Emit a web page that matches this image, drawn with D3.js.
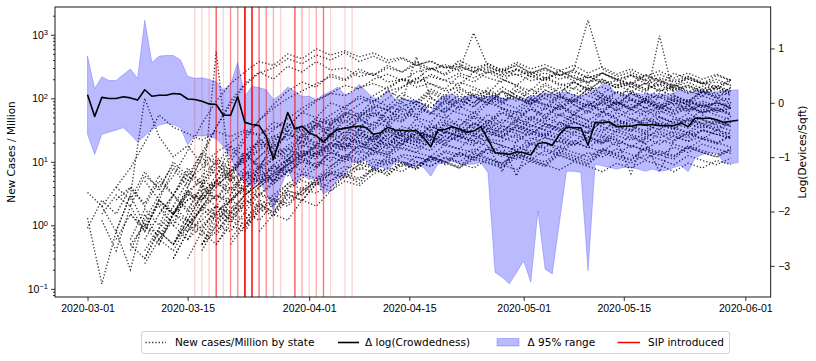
<!DOCTYPE html>
<html>
<head>
<meta charset="utf-8">
<script src="https://cdn.jsdelivr.net/npm/d3@7"></script>
<style>
  body { margin: 0; background: #fff; }
  svg { font-family: "DejaVu Sans", sans-serif; }
  .axis text { font-size: 10.5px; fill: #000; }
  .axis line { stroke: #000; stroke-width: 0.8; }
  .legend text { font-size: 10.5px; fill: #000; }
</style>
</head>
<body>
<div id="chart"></div>
<script>
// daily values, 2020-03-01 .. 2020-05-31
const crowdStart = "2020-03-01";

// mean change in log(crowdedness)
const crowdMean = [
  0.15, -0.25, 0.10, 0.08, 0.08, 0.11, 0.09, 0.05, 0.24, 0.12,
  0.14, 0.14, 0.17, 0.16, 0.07, 0.06, 0.03, -0.02, -0.03, -0.23,
  -0.23, 0.11, -0.36, -0.40, -0.42, -0.62, -1.04, -0.61, -0.18, -0.48,
  -0.43, -0.55, -0.61, -0.72, -0.58, -0.49, -0.47, -0.44, -0.43, -0.46,
  -0.58, -0.55, -0.45, -0.50, -0.51, -0.52, -0.51, -0.64, -0.81, -0.50,
  -0.49, -0.44, -0.48, -0.54, -0.52, -0.44, -0.67, -0.92, -0.93, -0.95,
  -0.90, -0.92, -0.96, -0.75, -0.73, -0.78, -0.58, -0.45, -0.46, -0.46,
  -0.78, -0.36, -0.37, -0.35, -0.44, -0.43, -0.43, -0.40, -0.41, -0.40,
  -0.42, -0.42, -0.42, -0.37, -0.44, -0.28, -0.29, -0.28, -0.31, -0.36,
  -0.34, -0.32
];

// 95% range, upper and lower
const crowdHigh = [
  0.86, 0.26, 0.48, 0.41, 0.41, 0.52, 0.62, 0.45, 1.52, 0.74,
  0.86, 0.87, 0.87, 0.79, 0.49, 0.45, 0.46, 0.43, 0.39, 0.24,
  0.34, 0.74, 0.12, 0.30, 0.28, 0.24, 0.06, 0.15, 0.29, 0.21,
  0.12, 0.12, 0.06, 0.15, 0.21, 0.29, 0.15, 0.18, 0.34, 0.21,
  0.09, 0.06, 0.24, 0.07, 0.06, 0.05, 0.04, -0.03, -0.18, 0.06,
  0.13, 0.17, 0.08, 0.12, 0.15, 0.09, 0.12, 0.13, 0.09, 0.07,
  0.08, 0.06, 0.12, 0.13, 0.18, 0.15, 0.18, 0.19, 0.15, 0.12,
  0.18, 0.24, 0.34, 0.32, 0.15, 0.15, 0.15, 0.17, 0.15, 0.17,
  0.15, 0.15, 0.18, 0.24, 0.17, 0.21, 0.23, 0.18, 0.21, 0.21,
  0.23, 0.24
];
const crowdLow = [
  -0.58, -0.95, -0.58, -0.54, -0.50, -0.46, -0.58, -0.72, -0.61, -0.49,
  -0.41, -0.38, -0.40, -0.46, -0.77, -0.61, -0.61, -0.61, -0.66, -0.80,
  -1.00, -1.32, -1.46, -1.55, -1.44, -1.65, -1.98, -1.56, -1.22, -1.53,
  -1.32, -1.41, -1.38, -1.68, -1.59, -1.41, -1.32, -1.10, -1.09, -1.05,
  -1.24, -1.17, -1.24, -1.10, -1.07, -1.19, -1.13, -1.19, -1.35, -1.13,
  -1.10, -1.07, -1.13, -1.13, -1.13, -1.10, -1.28, -3.12, -3.21, -3.33,
  -3.12, -2.91, -3.30, -1.99, -3.06, -3.15, -2.20, -1.26, -1.26, -1.28,
  -3.09, -1.13, -1.16, -1.19, -1.22, -1.19, -1.19, -1.22, -1.26, -1.22,
  -1.26, -1.24, -1.19, -1.15, -1.27, -1.01, -0.95, -0.92, -0.93, -1.10,
  -1.12, -1.10
];

// new cases per million by state, one value every caseStep days from 2020-03-01,
// each state beginning at slot stateStart[s]
const caseStep = 2;
const stateStart = [
  3, 4, 5, 6, 7, 8, 8, 6,
  2, 0, 1, 3, 5, 6, 4, 7, 8, 9,
  0, 5, 6, 7, 8, 4, 9, 10, 2, 5, 1, 4,
  6, 8, 11, 10, 9, 12, 7, 3,
  2, 3, 4, 6,
  1, 2, 3, 5, 7, 9, 0, 4
];
const stateCases = [
  // hardest hit states
  [0.4,1.2,3,6,15,40,90,170,260,380,330,500,420,600,480,560,450,520,400,440,340,380,300,320,260,290,220,240,190,210,160,180,140,150,120,130,100,110,90,95,75,85,70],
  [0.3,0.9,2,5,14,35,80,160,250,300,420,350,480,400,520,380,460,360,420,330,390,300,350,270,310,250,280,220,250,200,230,180,200,160,180,140,160,130,150,120,140,110],
  [0.5,1.5,4,12,35,90,170,260,200,320,260,380,280,300,220,250,180,200,150,170,130,150,110,130,95,110,85,100,75,90,70,85,65,80,60,75,55,70,60,65,55],
  [0.5,1.5,3,6,12,25,45,70,100,130,170,220,190,260,230,300,260,340,280,320,270,310,250,290,230,260,210,240,190,220,170,190,150,170,130,150,120,140,110,120],
  [1,2.5,5,10,22,45,80,130,180,150,240,200,290,230,330,260,380,290,340,280,1070,320,260,340,250,300,230,280,210,250,190,230,170,200,150,180,140,160,130],
  [0.5,1.5,3,6,12,20,35,60,90,120,160,140,200,240,190,260,300,230,320,260,350,280,370,290,340,270,330,250,310,240,290,220,270,210,250,200,240,190],
  [0.5,0.8,1.5,2.5,4,6,8,12,18,25,35,50,70,100,150,200,300,240,400,300,350,270,330,250,300,230,280,1700,290,220,260,200,240,190,220,170,200,160],
  [0.3,0.8,2,4,7,12,20,32,48,70,95,120,110,150,170,140,200,180,220,190,250,210,270,230,290,240,280,230,260,210,250,200,230,190,210,180,200,170,180,160],
  // upper middle
  [0.8,3,100,25,12,18,9,14,20,30,26,42,36,60,50,85,70,110,90,130,100,80,120,95,140,105,85,130,100,80,120,95,150,110,90,130,100,85,120,95,80,110,90,100],
  [1.3,0.12,0.8,0.2,1.5,0.6,1.5,2.5,3,5,7,11,16,24,36,30,50,42,70,55,95,75,120,90,70,110,85,140,100,80,130,95,75,115,90,140,100,80,125,95,75,110,90,130,100,85],
  [2,0.8,3,1,2.5,1.5,3.5,5,4,7,10,15,22,32,28,45,38,60,50,80,65,100,85,130,100,80,120,95,150,110,90,135,105,85,125,100,80,120,95,140,105,85,125,100,150],
  [0.5,1,0.7,1.5,2.5,3.5,5,8,12,18,26,22,35,45,40,60,52,75,65,90,450,100,80,110,85,120,90,105,80,115,85,100,75,110,80,95,70,105,80,90,70,85,75],
  [0.6,1.2,0.8,2,3,2.5,5,8,12,18,26,38,55,75,100,85,130,150,210,170,140,230,180,260,200,160,240,190,280,210,170,250,200,160,230,180,150,210,170,140,190],
  [0.5,1,1.8,1.2,2.5,4,6,5,9,13,19,28,24,38,32,50,42,70,58,90,72,110,85,130,100,85,135,105,90,145,115,95,155,120,100,165,130,110,150,120],
  [0.4,0.9,1.5,1.2,3,550,5,8,12,18,26,24,36,48,42,60,52,75,62,90,72,60,95,75,110,85,70,100,80,65,95,75,110,85,70,100,80,65,90,75,85,70],
  [1,1.8,3,2.2,4.5,7,11,16,24,20,34,28,45,60,50,75,90,140,110,180,150,120,200,160,130,220,170,140,230,180,150,240,190,160,250,200,170,230,190],
  [0.5,1,1.8,3,4.5,7,11,17,26,38,55,80,110,150,200,170,240,190,160,260,210,180,290,220,190,270,210,180,250,200,170,240,190,160,220,180,150,200],
  [1,2.5,1.8,4,6,9,14,12,20,30,26,42,36,58,50,42,70,58,50,85,70,60,95,80,68,110,90,78,125,95,85,970,110,90,130,105,95],
  // lower middle
  [3.3,2,4,8,20,55,35,28,22,30,25,32,27,35,40,32,38,30,35,29,24,31,22,28,25,20,26,19,23,21,27,19,24,21,18,25,20,23,17,24,19,26,21,25,20,26],
  [0.8,0.5,1.2,0.8,2,1.5,3,4.5,6.5,9,13,11,17,24,20,16,30,25,20,36,29,24,40,31,26,38,31,25,42,34,28,46,37,31,50,39,33,46,37,31,42],
  [0.3,0.8,1.2,2,1.6,3,4.5,6.5,9,12,17,14,21,28,23,19,32,26,22,38,30,25,42,33,28,45,36,30,48,38,31,44,36,29,41,34,28,38,32,27],
  [0.6,1,1.6,2.5,3.5,3,5,7,10,8.5,14,11,18,15,13,22,18,15,26,21,18,30,24,20,33,27,23,36,29,24,40,32,27,44,35,29,46,37,31],
  [0.5,1.2,2,1.6,3,4.5,7,10,14,20,17,26,22,32,28,24,36,30,26,42,34,29,48,38,32,55,42,35,60,47,39,65,50,42,58,46,39,52],
  [1,0.5,1.5,1,2,1.5,2.5,4,5.5,8,11,15,13,19,16,24,21,18,28,23,20,30,25,21,18,7,22,28,24,20,30,25,21,32,27,23,34,28,24,31,27,24],
  [0.8,1.6,1.2,2.5,2,4,5.5,8,12,10,15,13,19,16,14,22,18,16,26,21,18,6,22,28,24,20,31,26,22,6.5,25,30,25,21,32,27,23],
  [0.5,1,1.6,2.5,2,3.5,5,7.5,11,9.5,14,12,17,14,12,19,16,14,22,18,15,24,20,17,27,22,19,30,24,20,7,22,28,23,19,26],
  [2.5,4,2,5,3,7,4.5,9,6,12,9,14,16,12,18,16,24,20,18,27,23,20,30,25,22,34,28,24,37,30,26,40,33,28,44,35,30,47,38,32,50,40,34,45],
  [1.5,3,1.8,4,2.5,5,3.5,7,5,10,14,12,18,15,22,19,16,26,21,18,30,25,21,34,28,24,38,31,26,42,34,29,46,37,31,50,40,34,54,43,36],
  [1.2,0.4,2,0.8,2.5,1.5,3,2.5,4.5,6,5,8,11,15,21,18,26,22,32,27,23,36,30,26,40,33,28,45,37,31,50,40,34,55,44,37,60,48,40,64,51,43,68,54,46],
  [0.6,1.5,3,6,4,8,5,7,6,9,13,18,16,23,19,16,26,21,18,30,25,21,34,28,24,37,31,26,40,33,28,43,35,30,46,38,32,48,40,34,42,36],
  // least affected
  [1,0.6,1.5,2,1.2,2.5,2,3,4.5,3.8,5.5,7,6.5,9,8,11,9.5,8,12,10,8.5,13,11,9.5,14,11.5,10,15,12.5,10.5,16,13,11,17,14,12,18,15,13,16],
  [0.4,1,0.8,1.6,1.2,2.2,3.5,3,5,6.5,8.5,7.5,10,9,12,10,8.5,11.5,9.5,8,11,9,7.5,10.5,9,7.5,10,8.5,7,9.5,8,10.5,9,7,9.5,8,10.5,9],
  [1,2,1.5,3,2.5,4.5,6.5,6,9,11,10,13,12,10.5,15,13,11.5,17,14.5,12.5,19,16,13.5,20,17,14.5,21,18,15.5,22,19,16,23,20,17],
  [0.6,1.2,2.2,1.6,3.5,3,5.5,5,7.5,10,8.5,12,10,8.5,12,10,8,11,9.5,8,12,10,8.5,13,10.5,9,14,11.5,9.5,13,11,9,12.5,10.5,9,11.5],
  [0.5,1,0.8,1.8,1.4,2.6,3.8,3.2,5,6.5,5.5,8,7,10,8.5,12,10,14,11.5,16,13,11,15,12.5,17,14,12,16,13.5,18,15,12.5,17,14,19,16,13.5],
  [0.8,1.5,1.2,2.5,2,3.5,5,4.2,6.5,8,7,10,8.5,12,10,14,11.5,9.5,13,11,15,12.5,10.5,14,12,16,13,11,15,12.5,17,14,12,16],
  [0.3,0.8,0.5,1.2,0.9,1.8,2.6,2.2,3.5,4.8,4,6,5.2,7.5,6.5,9,7.8,11,9.5,8,12,10,8.5,13,11,9,14,11.5,9.5,15,12.5,10.5,16,13,11,17,14,12,15],
  [0.5,0.3,0.8,0.5,1.2,0.9,1.6,1.3,2.2,3,2.5,3.8,5,4.3,6.5,5.5,8,7,10,8.5,12,10,14,12,16,13.5,18,15,20,17,22,18.5,24,20,26,22,28,24,30,26,32,27,29],
  // early, slowly rising
  [0.6,1.5,0.9,2.2,1.5,3.2,2.5,4.5,3.5,6,8.5,7,11,15,13,20,17,26,22,32,27,38,32,45,37,52,43,60,49,68,55,75,61,82,66,88,70,92,74,96,78,90,76,85],
  [1.5,0.8,2.5,1.6,3.5,2.6,5,3.8,6.5,5,8.5,7,11,9,14,12,18,15,23,19,28,24,34,28,40,33,46,38,52,43,58,47,63,51,68,55,72,58,76,61,80,64,70],
  [0.25,0.6,0.4,1,0.7,1.5,1.1,2.2,3.2,2.6,4.5,6.5,5.5,8.5,12,10,15,13,19,16,23,19,27,22,31,25,35,28,39,31,43,34,46,37,49,39,52,41,46,40,44,38],
  [2,1.2,3,2,4,3,5.5,4.5,7.5,6,10,8.5,13,11,17,14,22,18,27,22,32,26,38,30,44,35,50,40,56,45,62,49,67,53,72,57,76,60,70,58],
  // noisier small states
  [1.5,3,2,6,4,9,5,8,12,7,15,20,14,30,24,40,32,55,45,38,65,50,80,60,48,75,58,95,70,55,85,65,110,80,62,95,72,120,88,66,100,78,60,90,70],
  [4,2.5,7,3.5,10,6,14,9,18,12,22,16,28,20,35,26,45,32,58,40,70,50,85,60,100,72,120,85,140,100,160,115,180,130,200,145,170,130,190,140,160,125,150,120],
  [0.6,1.8,1,3,1.6,4.5,2.5,6,3.5,8,5,11,7,15,10,20,13,26,17,32,22,40,28,48,34,56,40,64,46,72,52,80,58,88,64,96,70,85,62,78,58,72,54],
  [2,1,3.5,1.8,5,3,7,4.5,9,6,12,8,16,11,21,15,27,19,34,24,42,30,50,36,60,42,68,48,75,54,82,60,88,66,92,70,85,64,78,60,70],
  [3,6,10,5,14,8,20,12,28,18,38,25,50,34,65,44,80,55,95,66,110,78,125,90,140,100,150,110,160,118,170,125,175,130,165,125,155,118,145],
  [0.7,1.4,1,2.2,1.6,3.2,2.4,4.6,3.4,6.2,4.6,8,6,10,7.5,12,9,14,10.5,16,12,18,13.5,20,15,22,16.5,24,18,26,19.5,28,21,30,22.5,32,24],
  [0.9,2.5,1.5,4,2.2,6,3,8,4.5,11,6,14,8,18,10,22,13,27,16,33,20,40,25,48,30,55,35,62,40,70,45,76,50,82,55,88,60,92,64,95,68,90,66,85,64,80],
  [5,2.5,8,4,12,6,17,9,24,13,32,18,42,24,55,32,70,42,88,54,105,68,125,82,145,96,160,110,175,124,185,136,190,145,180,140,170,135,160,130,150,125]
];

// shelter-in-place orders: date and number of states introducing it that day
const sipDates = ["2020-03-16","2020-03-17","2020-03-18","2020-03-19","2020-03-20","2020-03-21","2020-03-22",
  "2020-03-23","2020-03-24","2020-03-25","2020-03-26","2020-03-27","2020-03-28","2020-03-30","2020-03-31",
  "2020-04-01","2020-04-02","2020-04-03","2020-04-04","2020-04-06","2020-04-07"];
const sipCount = [1, 1, 1, 5, 1, 3, 3, 14, 11, 4, 3, 2, 1, 5, 2, 1, 2, 4, 1, 1, 1];

const xTickLabels = ["2020-03-01", "2020-03-15", "2020-04-01", "2020-04-15", "2020-05-01", "2020-05-15", "2020-06-01"];
const caseTicks = [0.1, 1, 10, 100, 1000];
const crowdTicks = [-3, -2, -1, 0, 1];

const width = 816, height = 361;
const margin = { top: 7, right: 45.3, bottom: 64, left: 55 };

const parse = d3.utcParse("%Y-%m-%d");
const day0 = parse(crowdStart);
const days = crowdMean.map((_, i) => d3.utcDay.offset(day0, i));

const crowd = days.map((d, i) => ({ date: d, mean: crowdMean[i], hi: crowdHigh[i], lo: crowdLow[i] }));
const states = stateCases.map((vals, s) =>
  vals.map((v, k) => ({ date: d3.utcDay.offset(day0, (stateStart[s] + k) * caseStep), v })));

const svg = d3.select("#chart").append("svg")
  .attr("width", width).attr("height", height);

// matplotlib-like 5% margins
const t0 = +days[0], t1 = +days[days.length - 1];
const tp = (t1 - t0) * 0.05;
const x = d3.scaleUtc()
  .domain([new Date(t0 - tp), new Date(t1 + tp)])
  .range([margin.left, width - margin.right]);

const allCases = states.flat().map(d => Math.log10(d.v));
const [c0, c1] = d3.extent(allCases);
const cp = (c1 - c0) * 0.05;
const yCases = d3.scaleLog()
  .domain([Math.pow(10, c0 - cp), Math.pow(10, c1 + cp)])
  .range([height - margin.bottom, margin.top]);

const r0 = d3.min(crowdLow), r1 = d3.max(crowdHigh);
const rp = (r1 - r0) * 0.05;
const yCrowd = d3.scaleLinear()
  .domain([r0 - rp, r1 + rp])
  .range([height - margin.bottom, margin.top]);

const plot = svg.append("g");
plot.append("clipPath").attr("id", "clip")
  .append("rect")
  .attr("x", margin.left).attr("y", margin.top)
  .attr("width", width - margin.left - margin.right)
  .attr("height", height - margin.top - margin.bottom);
const inner = plot.append("g").attr("clip-path", "url(#clip)");

// state case lines (dotted)
const caseLine = d3.line()
  .x(d => x(d.date))
  .y(d => yCases(d.v));

inner.append("g")
  .selectAll("path")
  .data(states)
  .join("path")
  .attr("d", caseLine)
  .attr("fill", "none")
  .attr("stroke", "#000")
  .attr("stroke-opacity", 0.8)
  .attr("stroke-width", 1.3)
  .attr("stroke-dasharray", "1.3,2");

// 95% band
const band = d3.area()
  .x(d => x(d.date))
  .y0(d => yCrowd(d.lo))
  .y1(d => yCrowd(d.hi));

inner.append("path")
  .datum(crowd)
  .attr("d", band)
  .attr("fill", "blue")
  .attr("fill-opacity", 0.27)
  .attr("stroke", "blue")
  .attr("stroke-opacity", 0.22)
  .attr("stroke-width", 1);

// SIP lines, one per state
const sip = sipDates.flatMap((d, i) => d3.range(sipCount[i]).map(() => parse(d)));
inner.append("g")
  .selectAll("line")
  .data(sip)
  .join("line")
  .attr("x1", d => x(d)).attr("x2", d => x(d))
  .attr("y1", margin.top).attr("y2", height - margin.bottom)
  .attr("stroke", "red")
  .attr("stroke-opacity", 0.18)
  .attr("stroke-width", 1.3);

// mean line
const meanLine = d3.line()
  .x(d => x(d.date))
  .y(d => yCrowd(d.mean));

inner.append("path")
  .datum(crowd)
  .attr("d", meanLine)
  .attr("fill", "none")
  .attr("stroke", "#000")
  .attr("stroke-width", 1.6)
  .attr("stroke-linejoin", "round");

// frame
svg.append("rect")
  .attr("x", margin.left).attr("y", margin.top)
  .attr("width", width - margin.left - margin.right)
  .attr("height", height - margin.top - margin.bottom)
  .attr("fill", "none")
  .attr("stroke", "#000")
  .attr("stroke-width", 0.9);

// x axis
svg.append("g")
  .attr("class", "axis")
  .attr("transform", `translate(0,${height - margin.bottom})`)
  .call(d3.axisBottom(x)
    .tickValues(xTickLabels.map(parse))
    .tickFormat(d3.utcFormat("%Y-%m-%d"))
    .tickSize(4).tickPadding(3.5).tickSizeOuter(0))
  .call(g => g.select(".domain").remove());

// left log axis, minor ticks first
const minor = [];
for (let e = -2; e <= 3; e++) for (let m = 2; m <= 9; m++) {
  const v = m * Math.pow(10, e);
  if (v >= yCases.domain()[0] && v <= yCases.domain()[1]) minor.push(v);
}
svg.append("g")
  .attr("class", "axis")
  .attr("transform", `translate(${margin.left},0)`)
  .call(d3.axisLeft(yCases).tickValues(minor).tickSize(2).tickFormat(""))
  .call(g => g.select(".domain").remove());

svg.append("g")
  .attr("class", "axis")
  .attr("transform", `translate(${margin.left},0)`)
  .call(d3.axisLeft(yCases).tickValues(caseTicks).tickSize(4).tickPadding(3).tickFormat(""))
  .call(g => g.select(".domain").remove())
  .call(g => g.selectAll(".tick text").each(function (d) {
    const t = d3.select(this);
    t.append("tspan").text("10");
    t.append("tspan")
      .attr("dy", "-0.45em")
      .attr("font-size", "7.5px")
      .text(Math.round(Math.log10(d)).toString().replace("-", "\u2212"));
  }));

// right axis
svg.append("g")
  .attr("class", "axis")
  .attr("transform", `translate(${width - margin.right},0)`)
  .call(d3.axisRight(yCrowd).tickValues(crowdTicks).tickSize(4).tickPadding(3.5).tickFormat(d3.format("d")))
  .call(g => g.select(".domain").remove());

// axis titles
svg.append("text")
  .attr("transform", `translate(15,${(margin.top + height - margin.bottom) / 2}) rotate(-90)`)
  .attr("text-anchor", "middle")
  .attr("font-size", "10.5px")
  .text("New Cases / Million");

svg.append("text")
  .attr("transform", `translate(806,${(margin.top + height - margin.bottom) / 2}) rotate(-90)`)
  .attr("text-anchor", "middle")
  .attr("font-size", "10.5px")
  .text("Log(Devices/Sqft)");

// legend
const lg = svg.append("g").attr("class", "legend");
lg.append("rect")
  .attr("x", 141.5).attr("y", 331.5)
  .attr("width", 588).attr("height", 22)
  .attr("rx", 2.5)
  .attr("fill", "#fff").attr("fill-opacity", 0.8)
  .attr("stroke", "#ccc").attr("stroke-width", 0.9);

const ly = 342.5;
lg.append("line").attr("x1", 145.5).attr("x2", 166).attr("y1", ly).attr("y2", ly)
  .attr("stroke", "#000").attr("stroke-opacity", 0.8)
  .attr("stroke-width", 1.3).attr("stroke-dasharray", "1.3,2");
lg.append("text").attr("x", 175).attr("y", ly + 3.8).text("New cases/Million by state");

lg.append("line").attr("x1", 338).attr("x2", 359).attr("y1", ly).attr("y2", ly)
  .attr("stroke", "#000").attr("stroke-width", 1.6);
lg.append("text").attr("x", 365).attr("y", ly + 3.8).text("\u0394 log(Crowdedness)");

lg.append("rect").attr("x", 497).attr("y", ly - 4).attr("width", 22).attr("height", 7.5)
  .attr("fill", "blue").attr("fill-opacity", 0.27)
  .attr("stroke", "blue").attr("stroke-opacity", 0.22);
lg.append("text").attr("x", 527.5).attr("y", ly + 3.8).text("\u0394 95% range");

lg.append("line").attr("x1", 617.5).attr("x2", 640).attr("y1", ly).attr("y2", ly)
  .attr("stroke", "red").attr("stroke-width", 1.5);
lg.append("text").attr("x", 648).attr("y", ly + 3.8).text("SIP introduced");
</script>
</body>
</html>
